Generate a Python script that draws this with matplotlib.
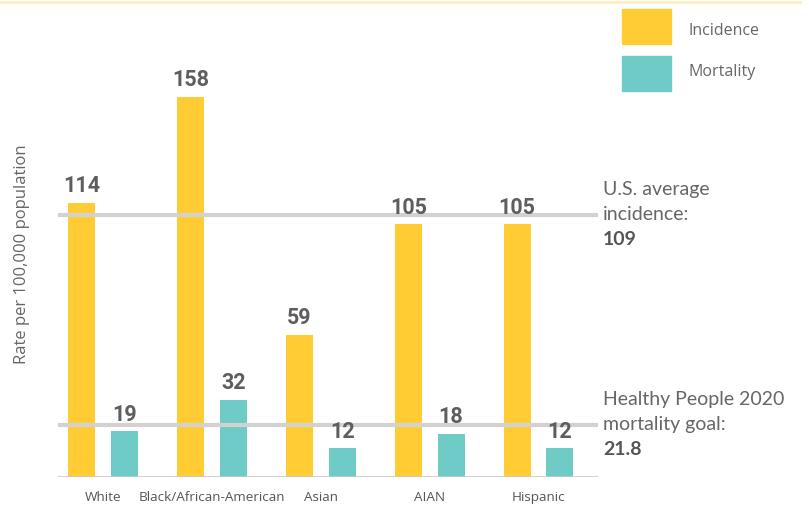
import matplotlib.pyplot as plt
from matplotlib.patches import Rectangle
from matplotlib.lines import Line2D
from matplotlib.transforms import blended_transform_factory

# data
groups = ['White', 'Black/African-American', 'Asian', 'AIAN', 'Hispanic']
incidence = [114, 158, 59, 105, 105]
mortality = [19, 32, 12, 18, 12]
us_avg_incidence = 109
hp2020_mortality_goal = 21.8

YELLOW = '#FFCD33'
TEAL = '#6ECBC6'
TXT = '#666666'
REF = '#D4D1D1'

plt.rcParams['font.family'] = ['Open Sans', 'DejaVu Sans']

W, H = 809, 508
fig = plt.figure(figsize=(W / 100, H / 100), dpi=100)
ax = fig.add_axes([58 / W, 31 / H, 540 / W, 409 / H])

xs = list(range(len(groups)))
bw = 0.248
off = 0.197
ax.bar([i - off for i in xs], incidence, bw, color=YELLOW, zorder=2)
ax.bar([i + off for i in xs], mortality, bw, color=TEAL, zorder=2)

for i in xs:
    for xv, v in ((i - off, incidence[i]), (i + off, mortality[i])):
        ax.annotate(str(v), (xv, v), xytext=(0, 4), textcoords='offset points',
                    ha='center', va='bottom', fontsize=15.5, fontweight='bold',
                    color='#5E5E5E', family=['Roboto', 'DejaVu Sans'], zorder=4)

# reference lines
ax.axhline(us_avg_incidence, color=REF, lw=3, solid_capstyle='round', zorder=3)
ax.axhline(hp2020_mortality_goal, color=REF, lw=3, solid_capstyle='round', zorder=3)
ax.axhline(0, color='#C8C8C8', lw=1.2, zorder=3)

tr = blended_transform_factory(fig.transFigure, ax.transData)
notes = [(us_avg_incidence, 'U.S. average', 'incidence:', '109'),
         (hp2020_mortality_goal, 'Healthy People 2020', 'mortality goal:', '21.8')]
for yv, l1, l2, l3 in notes:
    kw = dict(xycoords=tr, textcoords='offset points', ha='left', va='center',
              fontsize=14, color=TXT, family=['Lato', 'DejaVu Sans'])
    ax.annotate(l1, (603 / W, yv), xytext=(0, 18), **kw)
    ax.annotate(l2, (603 / W, yv), xytext=(0, 0), **kw)
    kw.update(fontweight='bold', color='#555555')
    ax.annotate(l3, (603 / W, yv), xytext=(0, -18), **kw)

ax.set_xlim(-0.413, 4.546)
ax.set_ylim(0, 170)
ax.set_xticks(xs)
ax.set_xticklabels(groups, fontsize=9.7, color='#555555')
ax.tick_params(axis='x', length=0, pad=10)
ax.set_yticks([])
for s in ax.spines.values():
    s.set_visible(False)

fig.text(22 / W, 1 - 254 / H, 'Rate per 100,000 population', rotation=90,
         ha='center', va='center', fontsize=12, color=TXT)

# faint top rule
fig.add_artist(Line2D([0, 800 / W], [1 - 2 / H] * 2, color='#FFECBF', lw=2,
                      transform=fig.transFigure))

# legend
for col, lab, y0, ty in [(YELLOW, 'Incidence', 9, 31), (TEAL, 'Mortality', 56, 72)]:
    fig.add_artist(Rectangle((622 / W, 1 - (y0 + 35) / H), 49 / W, 35 / H,
                             color=col, transform=fig.transFigure))
    fig.text(689 / W, 1 - ty / H, lab, ha='left', va='center',
             fontsize=11.5, color=TXT)

fig.savefig('out.png', dpi=100)
